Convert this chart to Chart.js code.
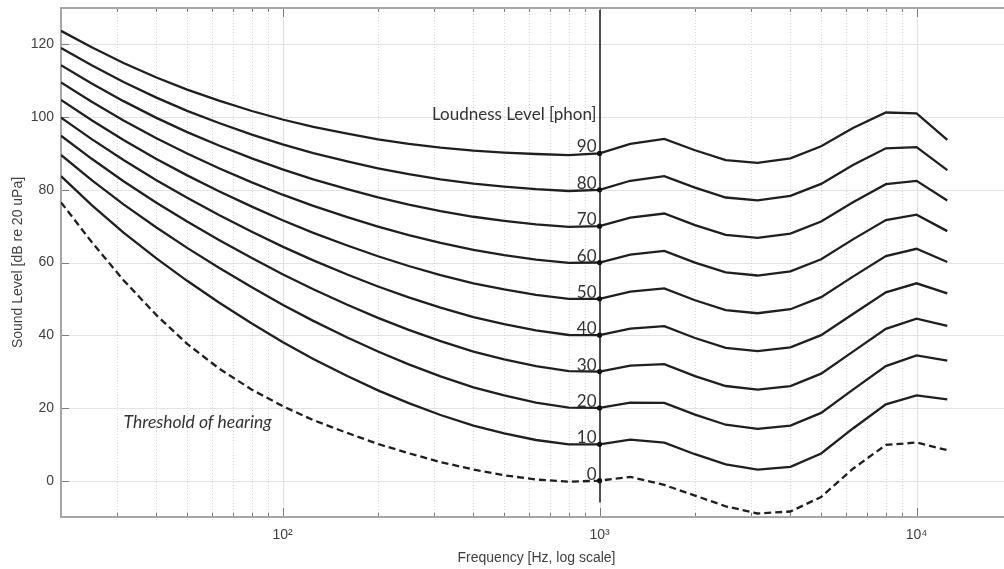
<!DOCTYPE html>
<html>
<head>
<meta charset="utf-8">
<script src="https://cdn.jsdelivr.net/npm/chart.js@4.4.1/dist/chart.umd.min.js"></script>
<style>
html, body { margin: 0; padding: 0; background: #fff; overflow: hidden; }
#wrap { position: absolute; left: 0; top: 0; width: 1016px; height: 569px; }
</style>
</head>
<body>
<div id="wrap"><canvas id="contornos"></canvas></div>
<script>
var FREQS = [20, 25, 31.5, 40, 50, 63, 80, 100, 125, 160, 200, 250, 315, 400, 500, 630, 800, 1000, 1250, 1600, 2000, 2500, 3150, 4000, 5000, 6300, 8000, 10000, 12500];
var PHON = [0, 10, 20, 30, 40, 50, 60, 70, 80, 90];

var LEVEL_0 = [76.55, 65.62, 55.12, 45.53, 37.63, 30.86, 25.02, 20.51, 16.65, 13.12, 10.09, 7.54, 5.11, 3.06, 1.48, 0.30, -0.30, 0.0, 1.04, -1.19, -4.11, -7.05, -9.03, -8.49, -4.48, 3.28, 9.83, 10.48, 8.38];
var LEVEL_10 = [83.75, 75.76, 68.21, 61.14, 54.96, 49.01, 43.24, 38.13, 33.48, 28.78, 24.84, 21.33, 18.05, 15.14, 12.98, 11.18, 9.99, 10.0, 11.26, 10.43, 7.27, 4.45, 3.04, 3.80, 7.46, 14.35, 20.98, 23.43, 22.33];
var LEVEL_20 = [89.58, 82.65, 75.98, 69.62, 64.02, 58.55, 53.19, 48.38, 43.94, 39.37, 35.51, 31.99, 28.69, 25.67, 23.43, 21.48, 20.10, 20.0, 21.46, 21.40, 18.15, 15.38, 14.26, 15.14, 18.63, 25.02, 31.52, 34.43, 33.04];
var LEVEL_30 = [94.85, 88.52, 82.36, 76.45, 71.26, 66.20, 61.22, 56.76, 52.64, 48.38, 44.78, 41.47, 38.36, 35.50, 33.37, 31.49, 30.11, 30.0, 31.65, 32.04, 28.76, 26.03, 25.05, 26.02, 29.42, 35.48, 41.74, 44.57, 42.55];
var LEVEL_40 = [99.85, 93.94, 88.17, 82.63, 77.78, 73.08, 68.48, 64.37, 60.59, 56.70, 53.41, 50.40, 47.58, 44.98, 43.05, 41.34, 40.06, 40.0, 41.82, 42.51, 39.23, 36.51, 35.61, 36.65, 40.01, 45.83, 51.80, 54.28, 51.49];
var LEVEL_50 = [104.72, 99.14, 93.69, 88.49, 83.96, 79.61, 75.36, 71.61, 68.16, 64.68, 61.72, 59.04, 56.55, 54.26, 52.59, 51.10, 49.98, 50.0, 51.99, 52.88, 49.62, 46.91, 46.05, 47.15, 50.48, 56.11, 61.76, 63.78, 60.14];
var LEVEL_60 = [109.51, 104.23, 99.08, 94.18, 89.96, 85.94, 82.05, 78.65, 75.56, 72.47, 69.86, 67.53, 65.39, 63.45, 62.05, 60.81, 59.89, 60.0, 62.15, 63.19, 59.96, 57.26, 56.42, 57.57, 60.89, 66.36, 71.66, 73.15, 68.63];
var LEVEL_70 = [114.26, 109.25, 104.38, 99.78, 95.87, 92.18, 88.64, 85.60, 82.85, 80.17, 77.92, 75.94, 74.16, 72.58, 71.47, 70.50, 69.78, 70.0, 72.32, 73.47, 70.28, 67.58, 66.76, 67.95, 71.26, 76.59, 81.54, 82.46, 77.04];
var LEVEL_80 = [118.99, 114.23, 109.65, 105.34, 101.72, 98.36, 95.17, 92.48, 90.09, 87.82, 85.92, 84.31, 82.89, 81.68, 80.86, 80.17, 79.67, 80.0, 82.48, 83.74, 80.59, 77.88, 77.08, 78.31, 81.62, 86.81, 91.41, 91.74, 85.41];
var LEVEL_90 = [123.71, 119.20, 114.88, 110.87, 107.55, 104.51, 101.67, 99.33, 97.29, 95.43, 93.89, 92.65, 91.60, 90.76, 90.24, 89.84, 89.55, 90.0, 92.65, 94.00, 90.88, 88.18, 87.38, 88.66, 91.96, 97.02, 101.26, 100.99, 93.75];
var LEVELS = [LEVEL_0, LEVEL_10, LEVEL_20, LEVEL_30, LEVEL_40, LEVEL_50, LEVEL_60, LEVEL_70, LEVEL_80, LEVEL_90];

var Y_TICKS = [0, 20, 40, 60, 80, 100, 120];
var X_TICKS = [100, 1000, 10000];
var X_LABELS = ["10\u00b2", "10\u00b3", "10\u2074"];
var REF_FREQ = 1000;

var TITLE_LABEL = { text: "Loudness Level [phon]", freq: 1000, level: 99.3 };
var THRESHOLD_LABEL = { text: "Threshold of hearing", freq: 31.5, level: 14.5 };

var AXIS_FONT = "'Liberation Sans', Arial, sans-serif";
var NOTE_FONT = "Lato, 'Open Sans', sans-serif";

function minorFreqs() {
    var out = [];
    [10, 100, 1000, 10000].forEach(function (d) {
        for (var k = 1; k < 10; k++) {
            var v = k * d;
            if (v > 20 && v < 20000) out.push(v);
        }
    });
    return out;
}

function seg(ctx, x1, y1, x2, y2) {
    ctx.beginPath();
    ctx.moveTo(x1, y1);
    ctx.lineTo(x2, y2);
    ctx.stroke();
}

var marco = {
    id: "marco",
    beforeDatasetsDraw: function (chart) {
        var ctx = chart.ctx, a = chart.chartArea, xs = chart.scales.x, ys = chart.scales.y;
        ctx.save();
        ctx.lineWidth = 1;

        // rejilla horizontal
        ctx.strokeStyle = "#e3e3e3";
        Y_TICKS.forEach(function (v) {
            var y = Math.round(ys.getPixelForValue(v)) + 0.5;
            seg(ctx, a.left, y, a.right, y);
        });

        // rejilla vertical (menor punteada, decadas solida)
        minorFreqs().forEach(function (f) {
            var x = Math.round(xs.getPixelForValue(f)) + 0.5;
            var decada = X_TICKS.indexOf(f) >= 0;
            ctx.strokeStyle = decada ? "#e0e0e0" : "#d6d6d6";
            ctx.setLineDash(decada ? [] : [1, 2]);
            seg(ctx, x, a.top, x, a.bottom);
        });
        ctx.setLineDash([]);

        // marcas hacia dentro
        ctx.strokeStyle = "#7a7a7a";
        minorFreqs().forEach(function (f) {
            var x = Math.round(xs.getPixelForValue(f)) + 0.5;
            var len = X_TICKS.indexOf(f) >= 0 ? 9 : 4;
            seg(ctx, x, a.bottom, x, a.bottom - len);
            seg(ctx, x, a.top, x, a.top + len);
        });
        Y_TICKS.forEach(function (v) {
            var y = Math.round(ys.getPixelForValue(v)) + 0.5;
            seg(ctx, a.left, y, a.left + 8, y);
            seg(ctx, a.right, y, a.right - 8, y);
        });

        // linea de 1 kHz
        ctx.strokeStyle = "#4d4d4d";
        ctx.lineWidth = 2;
        var xr = Math.round(xs.getPixelForValue(REF_FREQ));
        seg(ctx, xr, ys.getPixelForValue(129.5), xr, ys.getPixelForValue(-6));

        // caja
        ctx.strokeStyle = "#a6a6a6";
        ctx.lineWidth = 2;
        ctx.strokeRect(a.left, a.top, a.right - a.left, a.bottom - a.top);
        ctx.restore();
    },
    afterDatasetsDraw: function (chart) {
        var ctx = chart.ctx, xs = chart.scales.x, ys = chart.scales.y;
        var xr = xs.getPixelForValue(REF_FREQ);
        var idx = FREQS.indexOf(REF_FREQ);
        ctx.save();
        ctx.fillStyle = "#333";
        ctx.font = "17px " + NOTE_FONT;
        ctx.textAlign = "right";
        ctx.textBaseline = "alphabetic";
        PHON.forEach(function (p, i) {
            ctx.fillText(String(p), xr - 3, ys.getPixelForValue(LEVELS[i][idx]) - 1);
        });
        ctx.fillText(TITLE_LABEL.text, xs.getPixelForValue(TITLE_LABEL.freq) - 3, ys.getPixelForValue(TITLE_LABEL.level));
        ctx.font = "italic 17.5px " + NOTE_FONT;
        ctx.textAlign = "left";
        ctx.fillText(THRESHOLD_LABEL.text, xs.getPixelForValue(THRESHOLD_LABEL.freq), ys.getPixelForValue(THRESHOLD_LABEL.level));
        ctx.restore();
    }
};

function mostrarContornos() {
    var datasets = LEVELS.map(function (serie, i) {
        return {
            label: PHON[i] + " phon",
            data: FREQS.map(function (f, j) { return { x: f, y: serie[j] }; }),
            borderColor: "#1f1f1f",
            backgroundColor: "#111",
            borderWidth: 2.3,
            borderDash: i === 0 ? [7, 4] : [],
            tension: 0,
            fill: false,
            pointRadius: FREQS.map(function (f) { return f === REF_FREQ ? 2.6 : 0; }),
            pointBorderWidth: 0,
            pointBackgroundColor: "#111"
        };
    });

    var ctx = document.getElementById("contornos").getContext("2d");
    new Chart(ctx, {
        type: "line",
        data: { datasets: datasets },
        options: {
            responsive: true,
            maintainAspectRatio: false,
            animation: false,
            devicePixelRatio: 1,
            layout: { padding: { left: 0, top: 8, right: 4, bottom: 0 } },
            plugins: { legend: { display: false }, tooltip: { enabled: false } },
            scales: {
                x: {
                    type: "logarithmic",
                    min: 20,
                    max: 20000,
                    grid: { display: false, drawTicks: false },
                    border: { display: false },
                    afterBuildTicks: function (s) { s.ticks = X_TICKS.map(function (v) { return { value: v }; }); },
                    afterFit: function (s) { s.height = 52; s.paddingLeft = 0; s.paddingRight = 0; },
                    ticks: {
                        autoSkip: false,
                        maxRotation: 0,
                        padding: 10,
                        color: "#404040",
                        font: { family: AXIS_FONT, size: 14 },
                        callback: function (v, i) { return X_LABELS[i]; }
                    },
                    title: {
                        display: true,
                        text: "Frequency [Hz, log scale]",
                        color: "#404040",
                        font: { family: AXIS_FONT, size: 14 },
                        padding: { top: 0, bottom: 2 }
                    }
                },
                y: {
                    min: -10,
                    max: 130,
                    grid: { display: false, drawTicks: false },
                    border: { display: false },
                    afterBuildTicks: function (s) { s.ticks = Y_TICKS.map(function (v) { return { value: v }; }); },
                    afterFit: function (s) { s.width = 61; s.paddingTop = 0; s.paddingBottom = 0; },
                    ticks: {
                        padding: 7,
                        color: "#404040",
                        font: { family: AXIS_FONT, size: 14 }
                    },
                    title: {
                        display: true,
                        text: "Sound Level [dB re 20 uPa]",
                        color: "#404040",
                        font: { family: AXIS_FONT, size: 14 },
                        padding: { top: 10, bottom: 0 }
                    }
                }
            }
        },
        plugins: [marco]
    });
}

mostrarContornos();
</script>
</body>
</html>
